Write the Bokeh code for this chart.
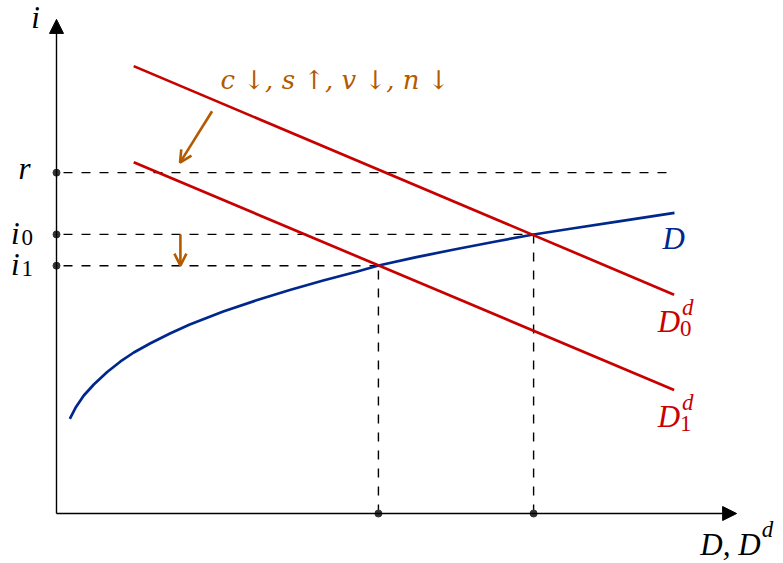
from bokeh.plotting import figure
from bokeh.models import Range1d, Arrow, NormalHead, OpenHead, Label
from bokeh.embed import file_html
from bokeh.resources import INLINE

# ---------------- data (chart units) ----------------
level_names = ["r", "i0", "i1"]
levels = [8.83, 7.23, 6.42]           # r, i0, i1
eq_x = [12.36, 8.34]                  # D at i0, D at i1
r_line_end = 15.91

d0_x = [2.0, 16.0]
d0_y = [11.59, 5.67]
d1_x = [2.0, 16.0]
d1_y = [9.10, 3.20]

curve_x = [0.345, 0.492, 0.707, 0.966, 1.313, 1.658, 2.003, 2.435, 2.953, 3.453,
           4.319, 5.181, 6.044, 6.909, 7.772, 8.342, 9.326, 10.337, 11.347, 12.358,
           13.316, 14.611, 16.010]
curve_y = [2.453, 2.738, 3.057, 3.342, 3.666, 3.938, 4.171, 4.412, 4.671, 4.896,
           5.231, 5.523, 5.790, 6.036, 6.262, 6.425, 6.642, 6.845, 7.041, 7.228,
           7.376, 7.573, 7.790]

axis_x_max = 17.62
axis_y_max = 12.80

shift_arrow_x = [4.03, 3.20]
shift_arrow_y = [10.42, 9.09]
drop_arrow_x = 3.21

shift_text = "c \u2193, s \u2191, v \u2193, n \u2193"

# ---------------- style ----------------
RED = "#C80000"
BLUE = "#00288C"
ORANGE = "#B35A00"
DOT = "#333333"
PX = 38.6  # pixels per chart unit
FONT = "Liberation Serif"
BIG = "31px"
SMALL = "23px"
LIFT = 11  # baseline correction

p = figure(width=783, height=563,
           x_range=Range1d(-56 / PX, 727 / PX), y_range=Range1d(-50 / PX, 513 / PX),
           output_backend="svg", toolbar_location=None, min_border=0,
           x_axis_location=None, y_axis_location=None)
p.grid.visible = False
p.outline_line_color = None
p.background_fill_color = "white"
p.border_fill_color = "white"

# dashed guide lines
p.segment(x0=[0, 0, 0], y0=levels, x1=[r_line_end, eq_x[0], eq_x[1]], y1=levels,
          line_color="black", line_width=1.4, line_dash="9 9", line_dash_offset=11)
p.segment(x0=eq_x, y0=[0, 0], x1=eq_x, y1=[levels[1], levels[2]],
          line_color="black", line_width=1.4, line_dash="9 9")

# curves
p.line(curve_x, curve_y, line_color=BLUE, line_width=2.7, line_join="round")
p.line(d0_x, d0_y, line_color=RED, line_width=2.7)
p.line(d1_x, d1_y, line_color=RED, line_width=2.7)

# axes
p.add_layout(Arrow(end=NormalHead(size=14, fill_color="black", line_color="black", line_width=1),
                   x_start=0, y_start=0, x_end=axis_x_max, y_end=0,
                   line_color="black", line_width=1.4))
p.add_layout(Arrow(end=NormalHead(size=14, fill_color="black", line_color="black", line_width=1),
                   x_start=0, y_start=0, x_end=0, y_end=axis_y_max,
                   line_color="black", line_width=1.4))

# dots
p.scatter(x=[0, 0, 0], y=levels, size=7, color=DOT)
p.scatter(x=eq_x, y=[0, 0], size=7, color=DOT)

# orange arrows
p.add_layout(Arrow(end=OpenHead(size=12, line_color=ORANGE, line_width=2.6),
                   x_start=shift_arrow_x[0], y_start=shift_arrow_y[0],
                   x_end=shift_arrow_x[1], y_end=shift_arrow_y[1],
                   line_color=ORANGE, line_width=2.6))
p.add_layout(Arrow(end=OpenHead(size=12, line_color=ORANGE, line_width=2.6),
                   x_start=drop_arrow_x, y_start=levels[1],
                   x_end=drop_arrow_x, y_end=levels[2],
                   line_color=ORANGE, line_width=2.6))


def lab(text, x, y, dx, dy, align="left", size=BIG, style="italic", color="black",
        font=FONT, lift=LIFT):
    p.add_layout(Label(x=x, y=y, x_offset=dx, y_offset=dy + lift, text=text,
                       text_align=align, text_baseline="alphabetic",
                       text_font=font, text_font_size=size, text_font_style=style,
                       text_color=color))


# axis labels
lab("i", 0, axis_y_max, -21, -9, align="center")
lab("D, D", axis_x_max, 0, 24, -42, align="right")
lab("d", axis_x_max, 0, 25, -27, size=SMALL)

# level labels
lab("r", 0, levels[0], -32, -7, align="center")
lab("i", 0, levels[1], -37, -10, align="right")
lab("0", 0, levels[1], -35, -14, size=SMALL, style="normal")
lab("i", 0, levels[2], -37, -10, align="right")
lab("1", 0, levels[2], -35, -14, size=SMALL, style="normal")

# curve labels
lab("D", curve_x[-1], curve_y[-1], -12, -37, color=BLUE)
lab("D", d0_x[-1], d0_y[-1], 6, -38, align="right", color=RED)
lab("d", d0_x[-1], d0_y[-1], 8, -24, size=SMALL, color=RED)
lab("0", d0_x[-1], d0_y[-1], 6, -45, size=SMALL, style="normal", color=RED)
lab("D", d1_x[-1], d1_y[-1], 6, -38, align="right", color=RED)
lab("d", d1_x[-1], d1_y[-1], 8, -24, size=SMALL, color=RED)
lab("1", d1_x[-1], d1_y[-1], 6, -45, size=SMALL, style="normal", color=RED)

# shift annotation
lab(shift_text, shift_arrow_x[0], shift_arrow_y[0], 123, 24, align="center",
    size="26px", color=ORANGE, font="DejaVu Serif", lift=7)

open("out.html", "w").write(file_html(p, INLINE))
